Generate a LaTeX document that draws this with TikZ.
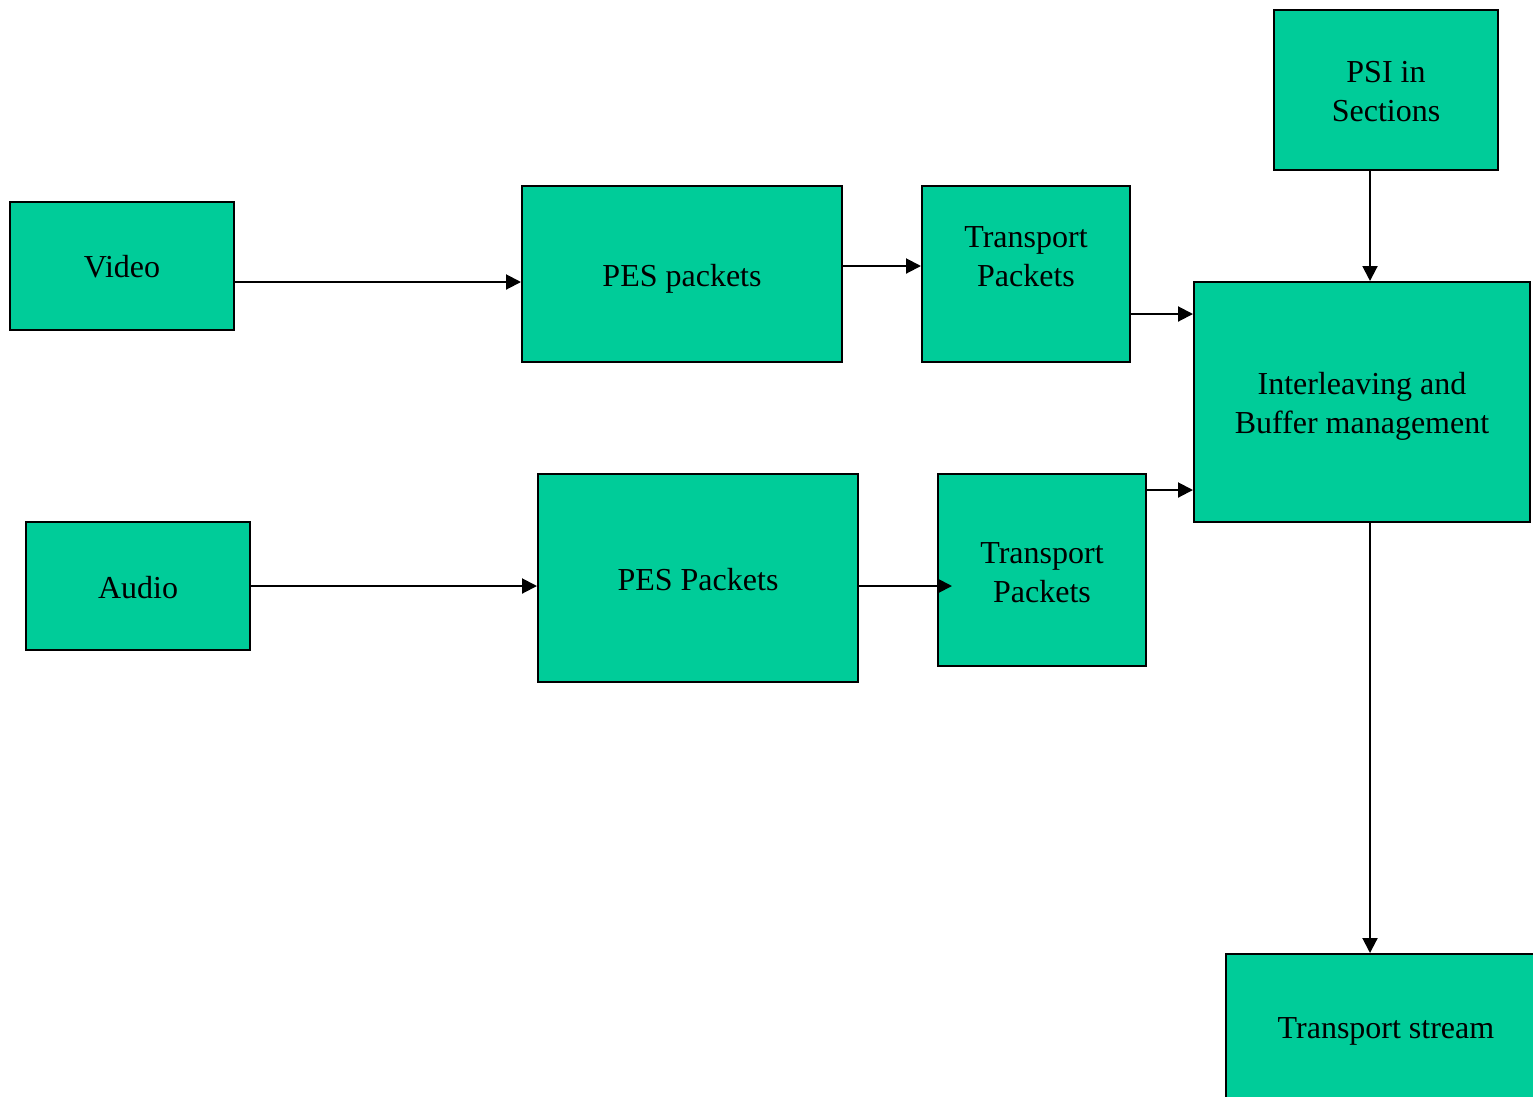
\documentclass[tikz,border=0pt]{standalone}
\usepackage{fontspec}
\setmainfont{Liberation Serif}
\usetikzlibrary{arrows.meta}
\definecolor{boxgreen}{HTML}{00CC99}
\begin{document}
\begin{tikzpicture}[x=1pt,y=-1pt,
  box/.style={draw=black,line width=2pt,fill=boxgreen,rectangle,inner sep=0pt},
  lbl/.style={align=center,inner sep=0pt,font=\fontsize{32}{39}\selectfont},
  txt/.style 2 args={label={[lbl,yshift=#1]center:#2}},
  conn/.style={line width=2pt,-{Triangle[length=15pt,width=15pt]}}]
\useasboundingbox (0,0) rectangle (1533,1096);
\begin{scope}
\clip (0,0) rectangle (1533,1096);
\node[box,minimum width=224pt,minimum height=128pt,txt={-1pt}{Video}] (video) at (122,266) {};
\node[box,minimum width=320pt,minimum height=176pt,txt={-5pt}{PES packets}] (pesv) at (682,274) {};
\node[box,minimum width=208pt,minimum height=176pt,txt={17pt}{Transport\\Packets}] (tpv) at (1026,274) {};
\node[box,minimum width=224pt,minimum height=160pt,txt={-2pt}{PSI in\\Sections}] (psi) at (1386,90) {};
\node[box,minimum width=336pt,minimum height=240pt,txt={-4pt}{Interleaving and\\Buffer management}] (inter) at (1362,402) {};
\node[box,minimum width=224pt,minimum height=128pt,txt={-2pt}{Audio}] (audio) at (138,586) {};
\node[box,minimum width=320pt,minimum height=208pt,txt={-2pt}{PES Packets}] (pesa) at (698,578) {};
\node[box,minimum width=208pt,minimum height=192pt,txt={-2.5pt}{Transport\\Packets}] (tpa) at (1042,570) {};
\node[box,minimum width=320pt,minimum height=144pt,txt={-5pt}{Transport stream}] (ts) at (1386,1026) {};
\end{scope}
\draw[conn] (video.east |- 0,282) -- (pesv.west |- 0,282);
\draw[conn] (pesv.east |- 0,266) -- (tpv.west |- 0,266);
\draw[conn] (tpv.east |- 0,314) -- (inter.west |- 0,314);
\draw[conn] (audio.east |- 0,586) -- (pesa.west |- 0,586);
\draw[conn] (pesa.east |- 0,586) -- ([xshift=15pt]tpa.west |- 0,586);
\draw[conn] (tpa.east |- 0,490) -- (inter.west |- 0,490);
\draw[conn] (psi.south -| 1370,0) -- (inter.north -| 1370,0);
\draw[conn] (inter.south -| 1370,0) -- (ts.north -| 1370,0);
\end{tikzpicture}
\end{document}
